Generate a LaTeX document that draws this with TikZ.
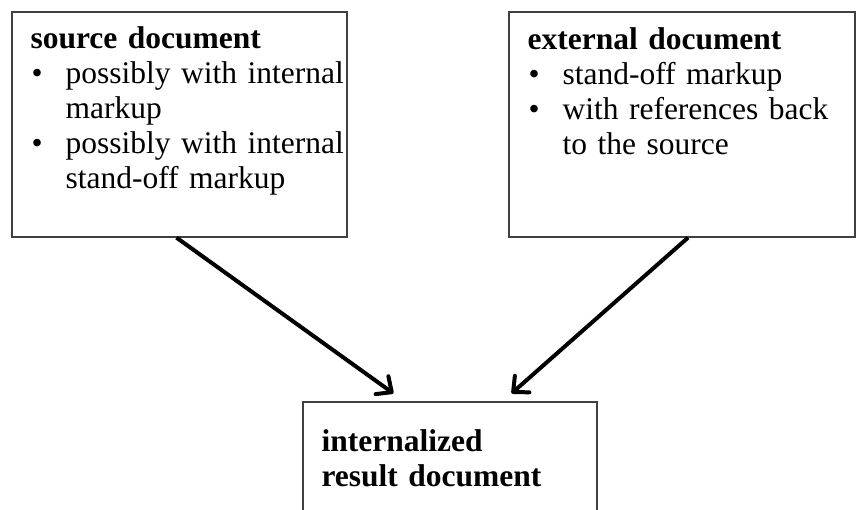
\documentclass[tikz,border=0pt]{standalone}
\usepackage{fontspec}
\setmainfont{Liberation Serif}
\usetikzlibrary{positioning, arrows.meta}

\newcommand{\boxfont}{\fontsize{31.5}{35}\selectfont\spaceskip=5.5pt plus 1pt minus 1pt\relax}
\newcommand{\bitem}{\makebox[35pt][l]{\hspace{1pt}\textbullet}}
\newcommand{\bcont}{\hspace*{35pt}}

\begin{document}
\begin{tikzpicture}[x=1pt,y=-1pt,
    doc box/.style={draw=black!75,line width=1.3pt,inner sep=0pt},
    box text/.style={anchor=base west,inner sep=0pt,text width=330pt,align=left,
                     font=\boxfont},
    feed/.style={-{Straight Barb[length=12pt,width=22pt,round]},line width=4pt}]

    \useasboundingbox (0,0) rectangle (858,510);
    \clip (0,0) rectangle (858,510);

    % the three boxes
    \node[doc box,minimum width=335pt,minimum height=225pt] (source) at (179.5,124.5) {};
    \node[doc box,minimum width=346pt,minimum height=225pt] (external) at (682,124.5) {};
    \node[doc box,minimum width=294pt,minimum height=150pt] (result) at (450,477) {};

    % box texts
    \node[box text] (source text) at ([xshift=19pt,yshift=-37pt]source.north west)
        {\textbf{source document}\\
         \bitem possibly with internal\\
         \bcont markup\\
         \bitem possibly with internal\\
         \bcont stand-off markup};
    \node[box text] (external text) at ([xshift=19pt,yshift=-38pt]external.north west)
        {\textbf{external document}\\
         \bitem stand-off markup\\
         \bitem with references back\\
         \bcont to the source};
    \node[box text] (result text) at ([xshift=19pt,yshift=-50pt]result.north west)
        {\textbf{internalized}\\
         \textbf{result document}};

    % arrows into the result
    \draw[feed] ([xshift=-3pt]source.south) -- ([xshift=91pt,yshift=8pt]result.north west);
    \draw[feed] ([xshift=6pt]external.south) -- ([xshift=-86pt,yshift=8pt]result.north east);
\end{tikzpicture}
\end{document}
